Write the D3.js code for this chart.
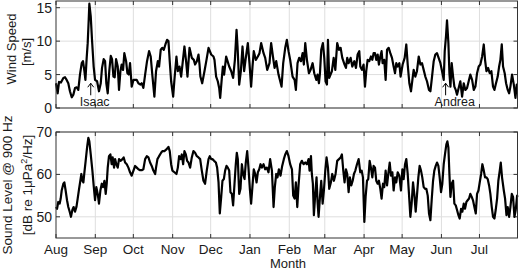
<!DOCTYPE html>
<html>
<head>
<meta charset="utf-8">
<script src="https://cdn.jsdelivr.net/npm/d3@7"></script>
<style>
body { margin: 0; background: #fff; }
text { font-family: "Liberation Sans", Arial, sans-serif; fill: #1a1a1a; }
</style>
</head>
<body>
<svg id="chart" width="520" height="271"></svg>
<script>
// x positions are days since 1 Aug 2012
const months = ["Aug", "Sep", "Oct", "Nov", "Dec", "Jan", "Feb", "Mar", "Apr", "May", "Jun", "Jul"];

const windDay = [0, 1.3, 2.4, 3.9, 5.8, 7.1, 8.4, 9.7, 11, 12.4, 13.7, 15, 16.3, 17.6, 18.9, 20.3, 21.3, 22.4, 23.2, 24.2,
  25, 25.8, 26.3, 27.4, 28.4, 29.7, 30.8, 32.4, 33.9, 35.3, 36.3, 37.6, 38.7, 39.7, 40.8, 42.1, 43.2, 44.2, 45.3, 46.3,
  47.4, 48.7, 49.7, 50.8, 51.8, 52.9, 53.9, 55.3, 56.3, 57.4, 58.4, 59.7, 61.1, 62.4, 63.7, 65, 66.6, 67.6, 68.9, 70.3,
  71.8, 73.4, 74.7, 76.1, 77.6, 78.9, 80.3, 81.3, 82.6, 83.9, 85, 86.3, 87.6, 88.7, 89.7, 90.8, 92.4, 93.4, 95, 96.1,
  97.4, 98.7, 101.3, 102.6, 103.7, 105.3, 107.1, 108.7, 109.7, 111.1, 112.4, 113.2, 113.9, 115.3, 117.1, 118.7, 120.3,
  122.4, 124.2, 125, 126.3, 127.6, 128.7, 129.5, 130.8, 131.6, 132.6, 134.2, 135.3, 136.6, 138.2, 139.7, 141.1, 142.4,
  143.2, 144.5, 145.8, 147.1, 148.4, 149.5, 151.3, 152.6, 153.9, 155, 156, 157.6, 159.2, 160.5, 161.8, 163.7, 165,
  166.6, 168.4, 169.2, 169.7, 171.1, 172.4, 173.7, 175.5, 177.9, 179.2, 180.8, 182.1, 183.4, 184.7, 186.6, 188.2, 189.2,
  190.5, 191.8, 193.2, 194.5, 195.5, 196.6, 197.9, 199.5, 200.8, 202.4, 203.7, 205.3, 206.3, 207.4, 208.2, 209.2, 210.5,
  211.6, 212.6, 213.7, 214.5, 215.5, 217.6, 219, 220.3, 221.8, 223.2, 224.5, 225.8, 227.6, 228.7, 229.7, 230.8, 232.4,
  233.7, 235.3, 236.6, 237.9, 239.2, 240, 241.3, 242.6, 243.7, 244.7, 245.8, 247.1, 248.4, 249.5, 250.5, 251.6, 252.6,
  253.7, 254.7, 255.8, 256.8, 257.6, 258.9, 260, 261.1, 262.4, 263.7, 265, 266.3, 267.4, 268.4, 269.5, 270.8, 271.8,
  273.4, 275, 276.3, 277.4, 278.7, 280, 281.1, 282.1, 283.4, 284.7, 286.1, 287.4, 288.7, 290, 291.3, 292.6, 294.2,
  295.3, 296.6, 297.9, 299.2, 300.5, 301.8, 303.2, 304.5, 305.8, 306.6, 307.6, 308.4, 309.5, 310.3, 311.1, 312.1, 313.2,
  314.2, 315.3, 316.3, 317.6, 318.9, 320.3, 321.6, 322.9, 324.2, 325.5, 326.8, 328.2, 329.5, 330.8, 332.1, 333.4, 334.7,
  336.1, 337.4, 338.4, 339.5, 340.8, 342.1, 343.4, 344.7, 345.8, 346.8, 348.4, 349.5, 350.5, 351.6, 352.6, 353.9, 355,
  356.3, 357.4, 358.4, 359.7, 361.1, 362.4, 363.4, 364];
const windSpeed = [3.7, 2.2, 3.9, 3.8, 4.5, 4.6, 4.2, 3.7, 2.5, 1.6, 2, 3, 3.1, 2.7, 5, 6.7, 7, 5.5, 4.2, 7.5,
  9.7, 13.2, 15.6, 13.7, 10.2, 6.2, 4.2, 4, 2.5, 3.7, 6, 7.3, 7, 3.7, 2.2, 5.7, 7.8, 7.3, 4.7, 4.6,
  7.3, 6.2, 2.7, 5.5, 6.5, 5.7, 8.2, 7, 5.2, 5, 6.7, 3.2, 4.2, 4.2, 4.2, 3.7, 3.5, 3.7, 3, 5,
  7, 8.5, 7.7, 4.7, 1.7, 5.5, 7, 6.2, 8.7, 9, 8.7, 9.5, 10.2, 10, 7, 4, 1.7, 4.2, 7.7, 5.5,
  6.2, 4.7, 9.2, 7, 4.7, 9, 7.5, 7.2, 6.5, 7, 8, 6.5, 4.7, 3.7, 5.5, 7.2, 9,
  8, 7.7, 7.2, 4.7, 4, 3, 1.5, 4.5, 6.2, 5, 7.7, 7, 6.2, 5.5, 4.5, 7.2, 11.7,
  9.2, 3.5, 5.5, 9.2, 5.5, 7.2, 9.7, 6.7, 3.2, 6.2, 8.5, 7.2, 7.7, 8.2, 9.7, 8.2, 7.5,
  5.7, 6.7, 8.7, 9.7, 7.7, 6, 7, 5, 3.2, 6.7, 9, 10.2, 8.5, 7.2, 4.7, 4.2, 2.7,
  6.7, 7.5, 7, 8.2, 6.5, 9.7, 7.2, 5.2, 5.7, 6.7, 5.2, 4.2, 5, 3.7, 5.2, 8.7, 9.7,
  7.5, 4, 3.5, 10.2, 4.5, 5.5, 7.5, 5.7, 9.7, 8.7, 9, 7.5, 6.5, 6, 7.5, 6.7, 7.5,
  6.2, 7, 6, 8, 8.5, 6.2, 5.7, 6.5, 3.2, 5.5, 7.2, 7, 7.7, 7.2, 8.2, 8.2, 7.2,
  8, 6.5, 7.7, 8.5, 6.7, 7.2, 4.2, 8.7, 9, 8.2, 7.5, 6.2, 5.2, 6.7, 6.2, 6.7, 4.7,
  6.5, 7.5, 9.5, 6.5, 3.7, 2.5, 4.2, 5.7, 4.7, 5.5, 7.7, 6.5, 6.7, 5.7, 4.7, 4, 2.7,
  2.5, 4.7, 7, 8, 8.2, 7.5, 6.7, 5.5, 4.2, 8.5, 10.7, 13.1, 9.7, 5.2, 3.2, 6.7, 4.7,
  3.2, 2.7, 2, 3, 4, 1.7, 3.7, 2.7, 3, 4, 5, 4.2, 2.7, 3.2, 5.2, 6.2, 6.5,
  7.7, 9.5, 7.2, 5.5, 6, 5.2, 5.5, 3.2, 2.7, 3.5, 4.7, 6.2, 7.2, 9.5, 6.2, 5.2, 3.7,
  2.7, 2.2, 3.2, 5, 3.5, 1.5, 3.5, 3.5];

const soundDay = [0, 0.8, 1.8, 2.9, 3.7, 4.5, 5.8, 6.6, 7.6, 8.7, 9.7, 10.8, 11.8, 12.9, 13.9, 15, 16.1, 17.1, 18.2, 19.2,
  20, 20.8, 21.6, 22.4, 23.4, 24.5, 25.5, 26.3, 27.4, 28.7, 29.7, 30.8, 31.8, 32.9, 33.9, 35, 36.1, 37.1, 38.2, 39.2,
  40, 40.8, 41.8, 42.9, 43.9, 44.7, 45.8, 46.6, 47.6, 48.7, 49.7, 51.1, 52.4, 53.4, 54.5, 55.8, 57.1, 58.4, 59.7, 61.1,
  62.4, 63.7, 65, 66.3, 67.6, 68.9, 70.3, 71.6, 72.9, 74.2, 75.5, 76.8, 78.2, 78.9, 80, 81.3, 82.9, 83.9, 85.5, 87.1,
  88.7, 89.7, 90.8, 91.8, 93.4, 95, 96.1, 97.1, 98.2, 99.2, 100.3, 101.3, 102.4, 103.4, 104.5, 105.8, 107.1, 108.4,
  109.7, 111.1, 112.4, 113.7, 115, 116.3, 117.6, 118.9, 120.3, 121.3, 122.4, 123.4, 124.7, 126.1, 127.1, 128.2, 129.2,
  130.3, 131.3, 132.4, 133.4, 134.5, 135.5, 136.6, 137.6, 138.7, 139.7, 140.8, 141.8, 142.6, 143.4, 144.5, 145.5, 146.6,
  147.6, 148.7, 149.7, 150.8, 151.8, 152.9, 153.9, 155, 156, 157.1, 158.2, 159.2, 160.3, 161.3, 162.4, 163.7, 165, 166.3,
  167.6, 168.9, 170.3, 171.6, 172.6, 173.7, 174.7, 175.8, 177.1, 178.4, 179.7, 180.8, 182.1, 183.4, 184.7, 186.1, 187.1,
  188.2, 189.2, 190.3, 191.3, 192.6, 193.9, 195.3, 196.6, 197.9, 199.2, 200, 201.1, 201.8, 202.6, 203.4, 204.5, 205.5,
  206.3, 207.1, 208.2, 209.2, 210.3, 211.3, 212.4, 213.4, 214.5, 215.5, 216.8, 217.9, 219.2, 220.5, 221.8, 223.2, 224.5,
  225.5, 226.6, 227.6, 228.7, 229.7, 230.8, 231.8, 232.9, 234, 235, 236.1, 237.4, 238.7, 240, 241.1, 242.1, 243.2, 244.2,
  245.3, 246.3, 247.4, 248.4, 249.5, 250.5, 251.6, 252.6, 253.7, 254.7, 255.8, 256.8, 257.9, 258.9, 260, 261.1, 262.1,
  263.2, 264.2, 265.3, 266.3, 267.4, 268.4, 269.5, 270.8, 272.1, 273.2, 274.2, 275.3, 276.3, 277.4, 278.4, 279.5, 280.5,
  281.6, 282.6, 283.7, 284.7, 285.8, 286.8, 287.9, 288.9, 290, 291.1, 292.1, 293.2, 294.2, 295.3, 296.3, 297.4, 298.4,
  299.5, 300.5, 301.6, 302.6, 303.7, 304.7, 305.8, 306.8, 307.9, 308.7, 309.5, 310.3, 311.1, 312.1, 313.2, 314.2, 315.3,
  316.3, 317.4, 318.4, 319.5, 320.5, 321.6, 322.6, 323.7, 324.7, 325.8, 326.8, 327.9, 328.9, 330, 331.1, 332.1, 333.2,
  334.2, 335.3, 336.3, 337.4, 338.4, 339.5, 340.5, 341.6, 342.6, 343.7, 344.7, 345.8, 346.8, 347.9, 348.9, 350, 350.8,
  351.8, 353.2, 354.2, 355.3, 356.3, 357.4, 358.4, 359.5, 360.5, 361.6, 362.6, 363.7, 364];
const soundLevel = [52.3, 51.9, 53.5, 53.1, 54.3, 56.2, 57.8, 58.1, 56.2, 53.9, 52.3, 51.2, 50, 51.6, 52.3, 51.2, 52.3, 54.3, 56.6, 58.5,
  60.1, 58.5, 58.1, 60.5, 63.2, 66.3, 68.6, 67.8, 64.7, 60.9, 57.4, 53.9, 57, 55.4, 53.1, 56.2, 57.8, 57, 58.5, 55.4,
  57.8, 61.6, 64.3, 64.7, 62.4, 64, 61.6, 63.6, 62.4, 61.6, 63.6, 63.2, 63.6, 64, 62.8, 62.4, 61.6, 60.5, 59.7, 60.9,
  62, 61.6, 61.2, 61, 61, 61.2, 63.6, 64.3, 64, 62.8, 62, 60.9, 60.1, 61.6, 63.6, 64.3, 65.1, 65.5, 65.5, 65.9,
  66.5, 65.5, 62.4, 60.9, 60.5, 60.1, 61.6, 64.3, 63.6, 64.7, 62.4, 65.5, 64.7, 63.2, 62.8, 61.6, 64, 65.5,
  65.1, 64.3, 64, 63.6, 60.9, 58.5, 57.8, 60.9, 63.6, 64.3, 63.6, 63.6, 63.2, 62.8, 61.6, 58.1, 50.8,
  54.7, 58.5, 58.9, 60.9, 62, 61.6, 60.9, 55.8, 55.4, 52.7, 57.8, 62.4, 65.1, 63.6, 55.4, 56.6, 62.4,
  60.1, 58.9, 62.8, 65.5, 61.6, 56.6, 53.1, 57.4, 61.2, 60.1, 58.1, 60.5, 61.2, 62.4, 61.6, 62.4, 61.2, 61.6,
  60.5, 63.6, 60.9, 52.3, 57, 60.1, 59.3, 61.2, 59.7, 62, 63.6, 64.7, 65.5, 64.3, 62.4, 61.2, 55,
  54.3, 58.1, 52.3, 57.4, 62.4, 63.2, 62.4, 62.8, 62.4, 63.6, 60.9, 64.3, 60.1, 57.8, 50.4, 55.4, 59.3,
  53.5, 50, 54.7, 58.5, 53.1, 56.2, 60.9, 64, 61.6, 56.6, 58.1, 60.1, 58.5, 60.1, 63.2, 63.6, 64,
  64.7, 60.9, 58.1, 61.2, 60.1, 55.8, 59.3, 57.4, 58.5, 60.1, 60.9, 62.4, 63.6, 60.5, 60.9, 59.3, 48.8, 54.7,
  58.5, 58.9, 63.2, 61.6, 59.3, 62, 61.6, 58.5, 57.8, 58.5, 56.6, 54.3, 57.8, 57, 60.9, 57.4, 60.1,
  62.8, 59.7, 60.5, 56.2, 59.3, 58.1, 60.5, 59.7, 56.2, 61.2, 58.9, 62.4, 63.6, 60.1, 55.4, 50, 53.1,
  58.1, 55.4, 51.2, 55, 59.3, 62, 60.9, 59.3, 57, 56.6, 56.6, 55, 50.8, 49.2, 53.9, 58.5, 60.9,
  62, 62.8, 62, 59.3, 55.8, 57.8, 62.4, 64.7, 67.1, 67.8, 66.3, 60.1, 54.7, 57.8, 58.5, 53.1, 52.7,
  51.6, 50.4, 49.6, 51.9, 51.2, 53.1, 51.9, 53.5, 53.9, 54.3, 55.4, 54.7, 53.9, 52.3, 50.8, 55.4, 56.2,
  58.1, 60.1, 62.4, 60.9, 59.3, 59.3, 58.9, 57.4, 55.4, 52.3, 50, 49.6, 51.6, 54.3, 58.5, 60.9, 62.8,
  59.3, 56.2, 54.3, 50.4, 52.3, 50, 52.3, 55.4, 54.7, 50, 51.6, 55, 54.7];

const windTicks = [0, 5, 10, 15];
const soundTicks = [50, 60, 70];
const storms = ["Isaac", "Andrea"];
const stormDay = [27.4, 307.3];

const start = Date.UTC(2012, 7, 1);
const toDate = d => new Date(start + d * 864e5);

const svg = d3.select("#chart");
const left = 56, right = 517.5;

const x = d3.scaleUtc()
  .domain([toDate(0), toDate(364)])
  .range([left, right]);
const monthTicks = d3.utcMonth.range(toDate(0), toDate(365));

const yWind = d3.scaleLinear().domain([0, 16]).range([108, 1]);
const ySound = d3.scaleLinear().domain([45, 70]).range([238, 132]);

function panel(y, ticks, days, vals) {
  const g = svg.append("g");
  const [y0, y1] = y.range();

  // grid
  g.selectAll(".vgrid").data(monthTicks.slice(1)).join("line")
    .attr("x1", d => x(d)).attr("x2", d => x(d))
    .attr("y1", y1).attr("y2", y0)
    .attr("stroke", "#dedede").attr("stroke-width", 1);
  g.selectAll(".hgrid").data(ticks).join("line")
    .attr("x1", left).attr("x2", right)
    .attr("y1", d => y(d)).attr("y2", d => y(d))
    .attr("stroke", "#dedede").attr("stroke-width", 1);

  // inward ticks on all sides
  const tk = 4;
  monthTicks.forEach(d => {
    g.append("line").attr("x1", x(d)).attr("x2", x(d)).attr("y1", y0).attr("y2", y0 - tk).attr("stroke", "#333");
    g.append("line").attr("x1", x(d)).attr("x2", x(d)).attr("y1", y1).attr("y2", y1 + tk).attr("stroke", "#333");
  });
  ticks.forEach(t => {
    g.append("line").attr("x1", left).attr("x2", left + tk).attr("y1", y(t)).attr("y2", y(t)).attr("stroke", "#333");
    g.append("line").attr("x1", right).attr("x2", right - tk).attr("y1", y(t)).attr("y2", y(t)).attr("stroke", "#333");
  });

  const line = d3.line()
    .x((d, i) => x(toDate(days[i])))
    .y(d => y(d));
  g.append("path")
    .datum(vals)
    .attr("d", line)
    .attr("fill", "none")
    .attr("stroke", "#000")
    .attr("stroke-width", 2.2)
    .attr("stroke-linejoin", "round");

  g.append("rect")
    .attr("x", left).attr("y", y1)
    .attr("width", right - left).attr("height", y0 - y1)
    .attr("fill", "none").attr("stroke", "#333").attr("stroke-width", 1);

  g.selectAll(".ylab").data(ticks).join("text")
    .attr("x", left - 4).attr("y", d => y(d) + 5)
    .attr("text-anchor", "end")
    .style("font-size", "14px")
    .text(d => d);
  return g;
}

panel(yWind, windTicks, windDay, windSpeed);
panel(ySound, soundTicks, soundDay, soundLevel);

// month labels
svg.selectAll(".mlab").data(monthTicks).join("text")
  .attr("x", d => x(d)).attr("y", 254)
  .attr("text-anchor", "middle")
  .style("font-size", "13.5px")
  .text((d, i) => months[i]);

svg.append("text")
  .attr("x", 288).attr("y", 268)
  .attr("text-anchor", "middle")
  .style("font-size", "13px")
  .text("Month");

// y axis labels
svg.append("text").attr("transform", "translate(16,49) rotate(-90)")
  .attr("text-anchor", "middle").style("font-size", "13px").text("Wind Speed");
svg.append("text").attr("transform", "translate(31,52) rotate(-90)")
  .attr("text-anchor", "middle").style("font-size", "13px").text("[m/s]");
svg.append("text").attr("transform", "translate(12,185) rotate(-90)")
  .attr("text-anchor", "middle").style("font-size", "13.5px").text("Sound Level @ 900 Hz");
const lab2 = svg.append("text").attr("transform", "translate(32,185) rotate(-90)")
  .attr("text-anchor", "middle").style("font-size", "13.5px");
lab2.append("tspan").text("[dB re 1\u03bcPa");
lab2.append("tspan").attr("dy", -5).style("font-size", "9px").text("2");
lab2.append("tspan").attr("dy", 5).text("/Hz]");

// storm annotations
storms.forEach((name, i) => {
  const ax = x(toDate(stormDay[i]));
  const tip = yWind(3.7), base = yWind(1.9);
  svg.append("line").attr("x1", ax).attr("x2", ax).attr("y1", base).attr("y2", tip)
    .attr("stroke", "#000").attr("stroke-width", 1);
  svg.append("path")
    .attr("d", `M${ax - 3},${tip + 4}L${ax},${tip}L${ax + 3},${tip + 4}`)
    .attr("fill", "none").attr("stroke", "#000").attr("stroke-width", 1);
  svg.append("text")
    .attr("x", ax - 11).attr("y", yWind(0.3))
    .style("font-size", "12.5px")
    .text(name);
});
</script>
</body>
</html>
